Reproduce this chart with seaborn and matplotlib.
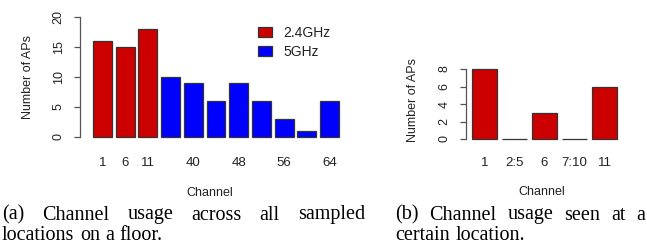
import matplotlib
matplotlib.use("Agg")
import matplotlib.pyplot as plt
from matplotlib.patches import Patch
import pandas as pd
import seaborn as sns

# (a) all sampled locations on a floor
floor_channels = ["1", "6", "11", "36", "40", "44", "48", "52", "56", "60", "64"]
floor_counts = [16, 15, 18, 10, 9, 6, 9, 6, 3, 1, 6]
floor_bands = ["2.4GHz"] * 3 + ["5GHz"] * 8
floor_shown = ["1", "6", "11", "40", "48", "56", "64"]  # R drops overlapping names
floor_yticks = [0, 5, 10, 15, 20]

# (b) one location
spot_channels = ["1", "2:5", "6", "7:10", "11"]
spot_counts = [8, 0, 3, 0, 6]
spot_yticks = [0, 2, 4, 6, 8]

band_colors = {"2.4GHz": "#CD0000", "5GHz": "#0000FF"}

caption_a = ["(a) Channel usage across all sampled", "locations on a floor."]
caption_b = ["(b) Channel usage seen at a", "certain location."]

W, H = 647, 246
sns.set_theme(style="white")
plt.rcParams["font.family"] = ["Liberation Sans", "DejaVu Sans"]
plt.rcParams["text.color"] = "#222222"
plt.rcParams["axes.labelcolor"] = "#222222"
plt.rcParams["xtick.color"] = "#222222"
plt.rcParams["ytick.color"] = "#222222"

fig = plt.figure(figsize=(W / 100, H / 100), dpi=100)


def px_axes(left, top, right, bottom):
    return fig.add_axes([left / W, 1 - bottom / H, (right - left) / W, (bottom - top) / H])


def style_axes(ax, yticks, xlim, ylab_x, ylab_y, xlab_y, xpad):
    ax.set_xlim(*xlim)
    ax.set_ylim(yticks[0], yticks[-1])
    for side in ["top", "right", "bottom"]:
        ax.spines[side].set_visible(False)
    ax.spines["left"].set_color("#555555")
    ax.spines["left"].set_linewidth(0.9)
    ax.spines["left"].set_bounds(yticks[0], yticks[-1])
    ax.set_yticks(yticks)
    ax.set_yticklabels([str(t) for t in yticks], rotation=90, va="center")
    ax.tick_params(axis="y", length=4, width=0.9, color="#555555", pad=7, labelsize=9, left=True)
    ax.tick_params(axis="x", length=0, pad=xpad, labelsize=9.5)
    ax.set_ylabel("Number of APs", fontsize=9)
    ax.yaxis.label.set_va("center")
    ax.yaxis.set_label_coords(ylab_x, ylab_y)
    ax.set_xlabel("Channel", fontsize=9)
    ax.xaxis.label.set_va("center")
    ax.xaxis.set_label_coords(0.5, xlab_y)
    ax.set_facecolor("none")
    # zero-height bars sit on the axes edge; keep their outline visible
    for p in ax.patches:
        p.set_clip_on(False)


floor = pd.DataFrame({"channel": floor_channels, "count": floor_counts, "band": floor_bands})
ax1 = px_axes(80, 17, 340, 137)
sns.barplot(data=floor, x="channel", y="count", hue="band", palette=band_colors,
            order=floor_channels, dodge=False, width=0.833, saturation=1,
            edgecolor="#333333", linewidth=0.9, legend=False, ax=ax1)
ax1.set_xticks(range(len(floor_channels)))
ax1.set_xticklabels([c if c in floor_shown else "" for c in floor_channels])
style_axes(ax1, floor_yticks, (-0.99, 10.46), -0.2, 0.5, -0.467, 14.5)

handles = [Patch(facecolor=band_colors[b], edgecolor="#333333", linewidth=0.9) for b in band_colors]
ax1.legend(handles, list(band_colors), loc="upper left",
           bbox_to_anchor=(258 / W, 1 - 26 / H), bbox_transform=fig.transFigure,
           frameon=False, fontsize=10, borderpad=0, borderaxespad=0,
           handlelength=1.0, handleheight=0.7, handletextpad=0.8, labelspacing=0.35)

spot = pd.DataFrame({"channel": spot_channels, "count": spot_counts})
ax2 = px_axes(466, 69, 618, 139)
sns.barplot(data=spot, x="channel", y="count", color="#CD0000", order=spot_channels,
            width=0.833, saturation=1, edgecolor="#333333", linewidth=0.9, ax=ax2)
style_axes(ax2, spot_yticks, (-0.617, 4.45), -0.349, 0.564, -0.757, 13)

# justified captions in a serif face
renderer = fig.canvas.get_renderer()


def caption_line(text, x0, x1, y, justify):
    words = text.split(" ")
    items = [fig.text(0, 1 - y / H, w, fontsize=14.5, family=["Liberation Serif"],
                      va="center", ha="left", color="black") for w in words]
    widths = [t.get_window_extent(renderer).width for t in items]
    gap = (x1 - x0 - sum(widths)) / max(len(words) - 1, 1) if justify else 5.5
    x = x0
    for t, w in zip(items, widths):
        t.set_x(x / W)
        x += w + gap


caption_line(caption_a[0], 2, 365, 215, True)
caption_line(caption_a[1], 2, 365, 235, False)
caption_line(caption_b[0], 395, 645, 215, True)
caption_line(caption_b[1], 395, 645, 235, False)

fig.savefig("out.png", dpi=100)
